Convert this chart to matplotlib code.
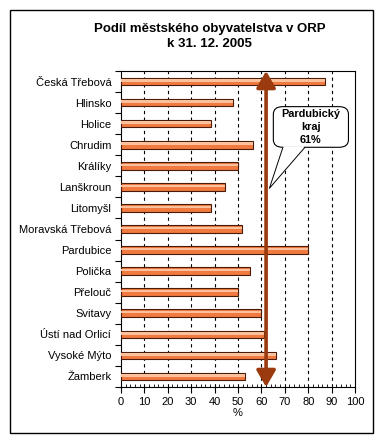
import matplotlib
matplotlib.use("Agg")
import matplotlib.pyplot as plt
from matplotlib.patches import FancyBboxPatch, Polygon, Rectangle
import numpy as np

plt.rcParams["font.family"] = ["Liberation Sans", "DejaVu Sans"]

# ── Data ──────────────────────────────────────────────────────────────────────
orp = ["Česká Třebová", "Hlinsko", "Holice", "Chrudim", "Králíky", "Lanškroun",
       "Litomyšl", "Moravská Třebová", "Pardubice", "Polička", "Přelouč",
       "Svitavy", "Ústí nad Orlicí", "Vysoké Mýto", "Žamberk"]
share = [87.3, 48.0, 38.6, 56.3, 50.1, 44.6, 38.6, 51.9, 80.1, 55.3, 49.9,
         59.7, 61.3, 66.4, 53.1]
kraj_value = 61
kraj_line = 62.0
x_ticks = list(range(0, 101, 10))

# ── Figure ────────────────────────────────────────────────────────────────────
fig = plt.figure(figsize=(3.85, 4.44), dpi=100)
fig.patches.append(Rectangle((0.026, 0.025), 0.943, 0.953, transform=fig.transFigure,
                             fill=False, edgecolor="black", linewidth=1.0))
ax = fig.add_axes([0.3143, 0.1284, 0.6078, 0.7116])

y = np.arange(len(orp))
ax.barh(y, share, height=0.36, color="#F07A40", edgecolor="#4a1c08",
        linewidth=0.8, zorder=3)
# light highlight band in the bars
ax.barh(y - 0.05, share, height=0.12, color="#FBC09C", edgecolor="none",
        zorder=4)

ax.set_xlim(0, 100)
ax.set_ylim(len(orp) - 0.5, -0.5)
ax.set_xticks(x_ticks)
ax.set_xticks(np.arange(0, 101, 2), minor=True)
ax.set_yticks(y)
ax.set_yticklabels(orp, fontsize=8)
ax.set_yticks(np.arange(-0.5, len(orp)), minor=True)
ax.tick_params(axis="y", which="major", length=0, pad=7)
ax.tick_params(axis="y", which="minor", length=4, direction="out", width=0.8)
ax.tick_params(axis="x", which="major", length=4, direction="out", width=0.8,
               labelsize=8, pad=3)
ax.tick_params(axis="x", which="minor", length=2, direction="in", width=0.6)
ax.set_xlabel("%", fontsize=8, labelpad=1)

for xv in x_ticks[1:-1]:
    ax.axvline(xv, color="black", linestyle=(0, (3, 3)), linewidth=0.8, zorder=1)

for s in ax.spines.values():
    s.set_linewidth(0.8)

# regional average arrow
ax.annotate("", xy=(kraj_line, -0.5), xytext=(kraj_line, len(orp) - 0.5),
            arrowprops=dict(arrowstyle="<|-|>,head_length=1.0,head_width=0.58",
                            color="#9A3A0E", linewidth=2.6, shrinkA=0, shrinkB=0),
            zorder=6)

# callout box
box = FancyBboxPatch((65.1, 1.19), 32.1, 1.93,
                     boxstyle="round,pad=0,rounding_size=4",
                     mutation_aspect=0.09,
                     facecolor="white", edgecolor="black", linewidth=0.8,
                     zorder=7)
ax.add_patch(box)
tip = (63.4, 5.07)
base_l, base_r = (69.2, 3.12), (78.6, 3.12)
ax.add_patch(Polygon([(base_l[0], base_l[1] - 0.05), tip, (base_r[0], base_r[1] - 0.05)],
                     closed=True, facecolor="white", edgecolor="none", zorder=8))
ax.plot([base_l[0], tip[0], base_r[0]], [base_l[1], tip[1], base_r[1]],
        color="black", linewidth=0.7, zorder=9)
ax.text(81.15, 2.17, f"Pardubický\nkraj\n{kraj_value}%", ha="center",
        va="center", fontsize=7.8, fontweight="bold", linespacing=1.4, zorder=10)

fig.text(0.545, 0.918, "Podíl městského obyvatelstva v ORP\nk 31. 12. 2005",
         ha="center", va="center", fontsize=9.5, fontweight="bold",
         linespacing=1.3)

fig.savefig("out.png", dpi=100)
